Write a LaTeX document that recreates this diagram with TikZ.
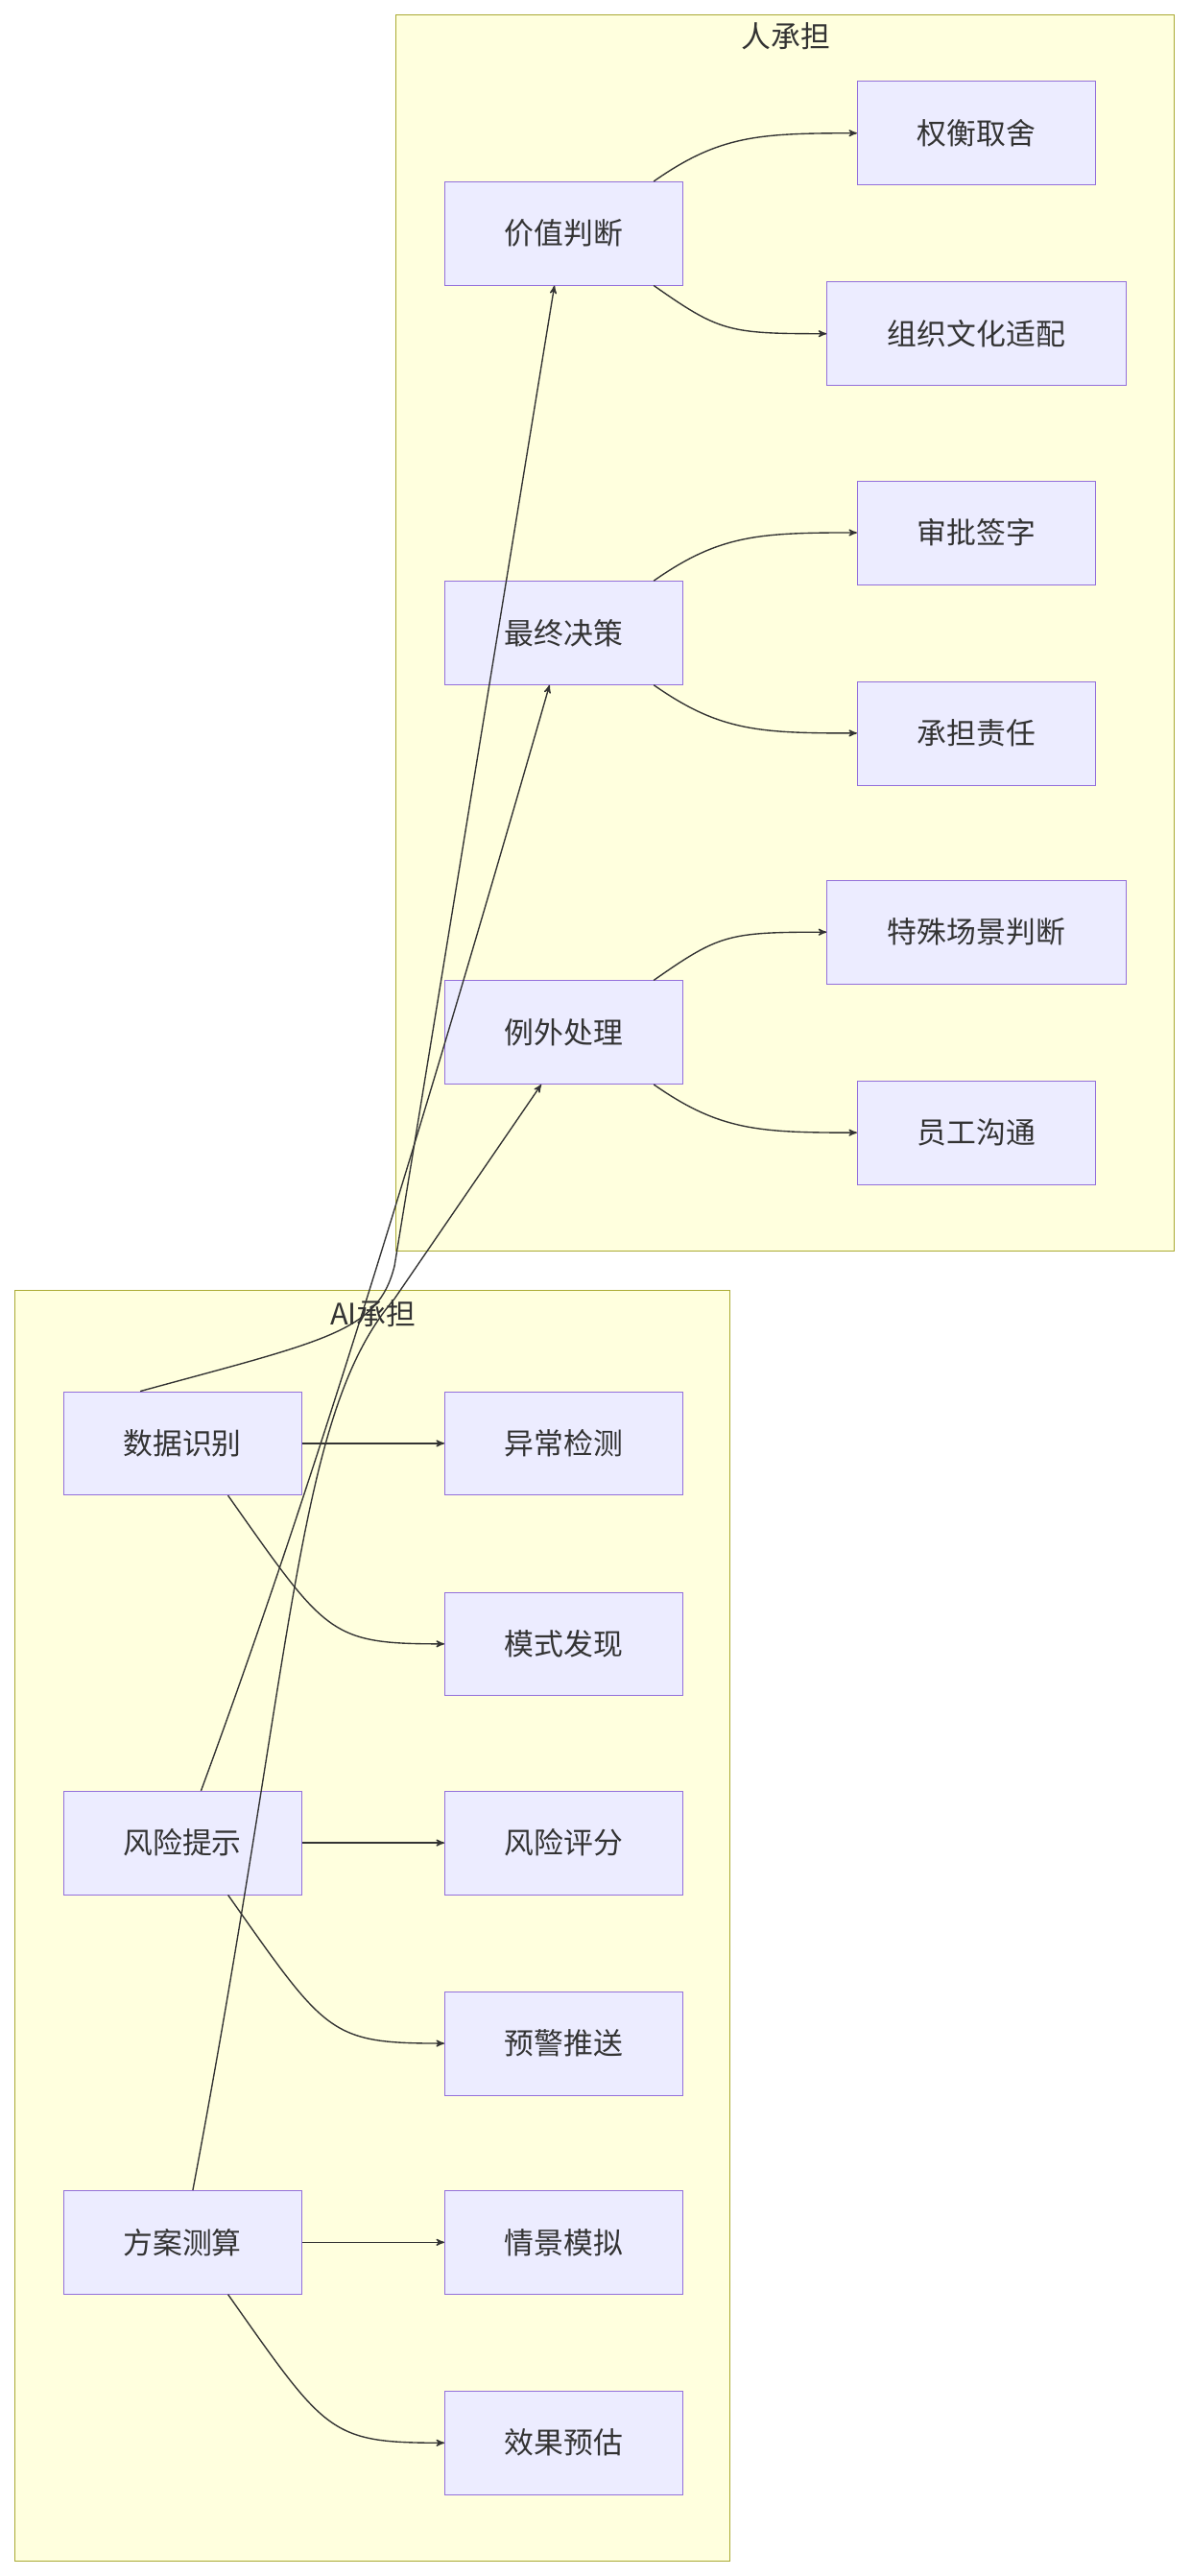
\documentclass[tikz,border=0pt]{standalone}
\usepackage{fontspec}
\setmainfont{Noto Sans CJK SC}
\usepackage{tikz}
\usetikzlibrary{arrows,positioning,calc}
\definecolor{boxfill}{HTML}{ECECFF}
\definecolor{boxline}{HTML}{9370DB}
\definecolor{grpfill}{HTML}{FFFFDE}
\definecolor{grpline}{HTML}{AAAA33}
\definecolor{edge}{HTML}{333333}
\begin{document}
\begin{tikzpicture}[x=1pt,y=-1pt,>=stealth',
  box/.style={rectangle,draw=boxline,fill=boxfill,minimum width=145pt,minimum height=63pt,
    font=\fontsize{18}{22}\selectfont,text=edge},
  wide box/.style={box,minimum width=182pt},
  group/.style={draw=grpline,fill=grpfill},
  flow/.style={->,draw=edge,thick}]
  \useasboundingbox (0,0) rectangle (724,1567);
  % groups
  \draw[group] (241,9) rectangle (714,761);
  \node[font=\fontsize{18}{22}\selectfont,text=edge] (hum) at (478,22) {人承担};
  \draw[group] (9,785) rectangle (444,1558);
  \node[font=\fontsize{18}{22}\selectfont,text=edge] (ai) at (227,799) {AI承担};
  % human side
  \node[box] (value) at (343,142) {价值判断};
  \node[box] (final) at (343,385) {最终决策};
  \node[box] (excp) at (343,628) {例外处理};
  \node[box] (trade) at (594,81) {权衡取舍};
  \node[wide box] (culture) at (594,203) {组织文化适配};
  \node[box] (sign) at (594,324) {审批签字};
  \node[box] (resp) at (594,446) {承担责任};
  \node[wide box] (special) at (594,567) {特殊场景判断};
  \node[box] (talk) at (594,689) {员工沟通};
  % ai side
  \node[box] (data) at (111,878) {数据识别};
  \node[box] (anom) at (343,878) {异常检测};
  \node[box] (patt) at (343,1000) {模式发现};
  \node[box] (risk) at (111,1121) {风险提示};
  \node[box] (score) at (343,1121) {风险评分};
  \node[box] (warn) at (343,1243) {预警推送};
  \node[box] (plan) at (111,1364) {方案测算};
  \node[box] (scen) at (343,1364) {情景模拟};
  \node[box] (eff) at (343,1486) {效果预估};
  % right fans
  \foreach \src/\up/\dn in {value/trade/culture,final/sign/resp,excp/special/talk}{
    \draw[flow] ([xshift=-18pt]\src.north east) .. controls ($([xshift=-18pt]\src.north east)+(40,-28)$) and ($(\up.west)+(-60,0)$) .. (\up.west);
    \draw[flow] ([xshift=-18pt]\src.south east) .. controls ($([xshift=-18pt]\src.south east)+(40,28)$) and ($(\dn.west)+(-60,0)$) .. (\dn.west);
  }
  \foreach \src/\up/\dn in {data/anom/patt,risk/score/warn,plan/scen/eff}{
    \draw[flow] (\src.east) -- (\up.west);
    \draw[flow] ([xshift=-45pt]\src.south east) .. controls ($([xshift=-45pt]\src.south east)+(60,85)$) and ($(\dn.west)+(-70,0)$) .. (\dn.west);
  }
  % cross links
  \draw[flow] ([xshift=47pt]data.north west) .. controls (200,815) and (230,810) .. (240,770) -- ([xshift=67pt]value.south west);
  \draw[flow] ([xshift=84pt]risk.north west) .. controls (170,960) and (230,780) .. ([xshift=64pt]final.south west);
  \draw[flow] ([xshift=79pt]plan.north west) .. controls (180,1000) and (180,860) .. (240,790) -- ([xshift=59pt]excp.south west);
\end{tikzpicture}
\end{document}
